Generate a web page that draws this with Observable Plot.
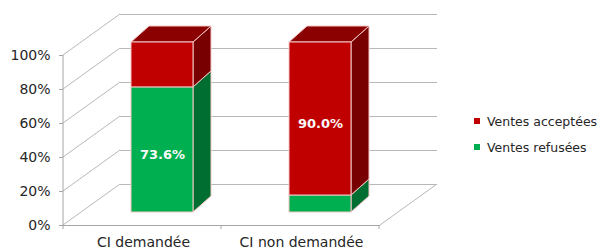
<!DOCTYPE html>
<html>
<head>
<meta charset="utf-8">
<script src="https://cdn.jsdelivr.net/npm/d3@7"></script>
<script src="https://cdn.jsdelivr.net/npm/@observablehq/plot@0.6"></script>
<style>
  body { margin: 0; background: #fff; }
  #wrap { position: relative; width: 614px; height: 251px; }
  #legend { position: absolute; left: 474px; top: 108px; font-family: "DejaVu Sans", sans-serif; font-size: 12.5px; color: #262626; }
  #legend .item { display: flex; align-items: center; height: 26px; }
  #legend .sw { width: 6px; height: 6px; margin-right: 7px; }
</style>
</head>
<body>
<div id="wrap"></div>
<script>
const categories = ["CI demandée", "CI non demandée"];
const series = ["Ventes refusées", "Ventes acceptées"];
const refusees = [73.6, 10.0];
const acceptees = [26.4, 90.0];
const labelShown = [[true, false], [false, true]]; // [category][series]
const yTicks = [0, 20, 40, 60, 80, 100];
const legendOrder = ["Ventes acceptées", "Ventes refusées"];

const frontColors = ["#00B050", "#C00000"];
const sideColors = ["#006E31", "#780000"];
const topColor = "#8B0000";
const edge = "#f4c6c6";
const gridColor = "#b8b8b8";

// geometry of the 3D look (pixel offsets)
const FLOOR_DX = 57, FLOOR_DY = -41;
const BAR_DX = 19, BAR_DY = -13;
const DEPTH_DX = 18, DEPTH_DY = -16;

const data = [];
categories.forEach((c, i) => {
  data.push({cat: c, series: series[0], value: refusees[i], label: labelShown[i][0]});
  data.push({cat: c, series: series[1], value: acceptees[i], label: labelShown[i][1]});
});

function wall(index, scales, values, dims) {
  const {x, y} = scales;
  const g = d3.create("svg:g").attr("fill", "none").attr("stroke", gridColor);
  const ml = dims.marginLeft, xr = dims.width - dims.marginRight;
  for (const t of yTicks) {
    g.append("line").attr("x1", ml).attr("y1", y(t)).attr("x2", ml + FLOOR_DX).attr("y2", y(t) + FLOOR_DY);
  }
  g.append("line").attr("x1", xr).attr("y1", y(0)).attr("x2", xr + FLOOR_DX).attr("y2", y(0) + FLOOR_DY);
  g.append("line").attr("x1", ml).attr("y1", y(0)).attr("x2", ml).attr("y2", y(100)).attr("stroke", "#a6a6a6");
  const step = x.step();
  for (let k = 0; k <= categories.length; k++) {
    const bx = ml + k * step;
    g.append("line").attr("x1", bx).attr("y1", y(0)).attr("x2", bx).attr("y2", y(0) + 4).attr("stroke", "#a6a6a6");
  }
  return g.node();
}

function barSides(index, scales, values, dims) {
  const {x, y} = scales;
  const bw = x.bandwidth();
  const g = d3.create("svg:g").attr("stroke", edge).attr("stroke-width", 1).attr("stroke-linejoin", "round");
  categories.forEach((c, i) => {
    const xl = x(c) + BAR_DX, xrr = xl + bw;
    const segs = [[0, refusees[i]], [refusees[i], refusees[i] + acceptees[i]]];
    segs.forEach(([a, b], s) => {
      const ya = y(a) + BAR_DY, yb = y(b) + BAR_DY;
      g.append("polygon")
        .attr("points", [[xrr, ya], [xrr + DEPTH_DX, ya + DEPTH_DY], [xrr + DEPTH_DX, yb + DEPTH_DY], [xrr, yb]].join(" "))
        .attr("fill", sideColors[s]);
    });
    const yt = y(refusees[i] + acceptees[i]) + BAR_DY;
    g.append("polygon")
      .attr("points", [[xl, yt], [xl + DEPTH_DX, yt + DEPTH_DY], [xrr + DEPTH_DX, yt + DEPTH_DY], [xrr, yt]].join(" "))
      .attr("fill", topColor);
  });
  return g.node();
}

const chart = Plot.plot({
  width: 614,
  height: 251,
  marginLeft: 63,
  marginRight: 234,
  marginTop: 55,
  marginBottom: 26,
  style: {fontFamily: "DejaVu Sans, sans-serif", fontSize: "14px", color: "#262626", background: "#fff"},
  x: {type: "band", domain: categories, paddingInner: 0.61, paddingOuter: 0.305, label: null},
  y: {domain: [0, 100], label: null},
  color: {domain: series, range: frontColors},
  marks: [
    Plot.ruleY(yTicks, {dx: FLOOR_DX, dy: FLOOR_DY, stroke: gridColor}),
    wall,
    Plot.ruleY([0], {stroke: "#a6a6a6"}),
    barSides,
    Plot.rectY(data, {x: "cat", y: "value", fill: "series", dx: BAR_DX, dy: BAR_DY, stroke: edge, strokeWidth: 1}),
    Plot.text(data, Plot.stackY({x: "cat", y: "value", z: "series",
      text: d => d.label ? d.value.toFixed(1) + "%" : null,
      dx: BAR_DX, dy: -8, fill: "#fafafa", fontWeight: "bold", fontSize: 13})),
    Plot.axisY({ticks: yTicks, tickFormat: d => d + "%", tickSize: 4, tickPadding: 9, fontSize: 14, stroke: "#a6a6a6", fill: "#262626"}),
    Plot.axisX({tickSize: 0, tickPadding: 12, fontSize: 14, fill: "#262626"})
  ]
});

const wrap = document.getElementById("wrap");
wrap.appendChild(chart);

const color = chart.scale("color");
const legend = document.createElement("div");
legend.id = "legend";
for (const s of legendOrder) {
  const item = document.createElement("div");
  item.className = "item";
  const sw = document.createElement("span");
  sw.className = "sw";
  sw.style.background = color.apply(s);
  const tx = document.createElement("span");
  tx.textContent = s;
  item.appendChild(sw);
  item.appendChild(tx);
  legend.appendChild(item);
}
wrap.appendChild(legend);
</script>
</body>
</html>
